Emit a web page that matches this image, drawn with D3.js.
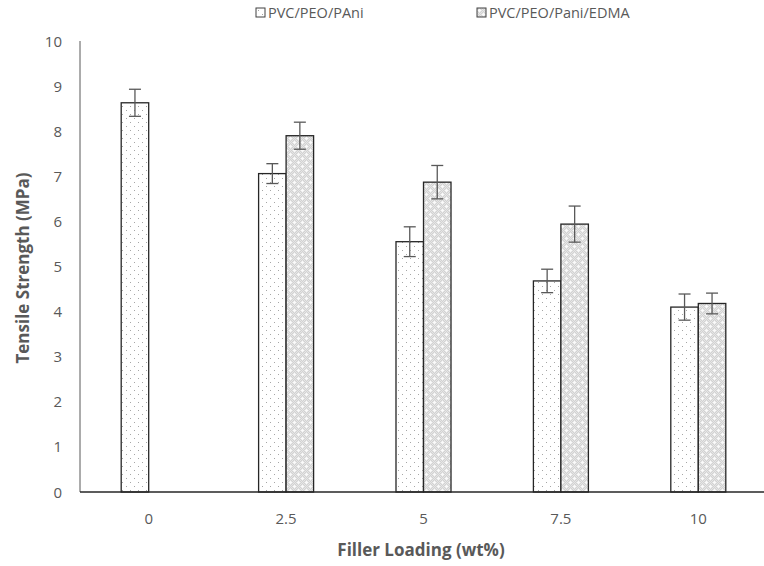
<!DOCTYPE html>
<html>
<head>
<meta charset="utf-8">
<script src="https://cdn.jsdelivr.net/npm/d3@7"></script>
<style>
  body { margin: 0; background: #fff; }
  text { font-family: "Open Sans", sans-serif; }
</style>
</head>
<body>
<div class="chart"></div>
<script>
var categories = ["0", "2.5", "5", "7.5", "10"];
var seriesNames = ["PVC/PEO/PAni", "PVC/PEO/Pani/EDMA"];
var pani = [8.63, 7.06, 5.55, 4.68, 4.1];
var paniErr = [0.3, 0.22, 0.33, 0.26, 0.29];
var edma = [null, 7.9, 6.87, 5.94, 4.18];
var edmaErr = [null, 0.3, 0.37, 0.4, 0.23];
var yTicks = [0, 1, 2, 3, 4, 5, 6, 7, 8, 9, 10];

var W = 764, H = 566;
var margin = { top: 41, left: 80, bottom: 74 };
var plotRight = 767;

var svg = d3.select(".chart").append("svg")
    .attr("width", W).attr("height", H);

var defs = svg.append("defs");
// sparse dots pattern for first series
var p1 = defs.append("pattern").attr("id", "dots")
    .attr("patternUnits", "userSpaceOnUse").attr("width", 8).attr("height", 8);
p1.append("rect").attr("width", 8).attr("height", 8).attr("fill", "#fff");
p1.append("rect").attr("x", 2).attr("y", 2).attr("width", 1).attr("height", 1).attr("fill", "#a6a6a6");
p1.append("rect").attr("x", 6).attr("y", 6).attr("width", 1).attr("height", 1).attr("fill", "#a6a6a6");
// light gray checker with white crosses for second series
var p2 = defs.append("pattern").attr("id", "grid")
    .attr("patternUnits", "userSpaceOnUse").attr("width", 8).attr("height", 8);
p2.append("rect").attr("width", 8).attr("height", 8).attr("fill", "#d2d2d2");
[[0,0],[2,0],[4,0],[6,0],[1,1],[3,1],[5,1],[7,1],[0,2],[2,2],[4,2],[6,2],[1,3],[3,3],[5,3],[7,3],
 [0,4],[2,4],[4,4],[6,4],[1,5],[3,5],[5,5],[7,5],[0,6],[2,6],[4,6],[6,6],[1,7],[3,7],[5,7],[7,7]]
    .forEach(function (c) {
        p2.append("rect").attr("x", c[0]).attr("y", c[1]).attr("width", 1).attr("height", 1).attr("fill", "#e6e6e6");
    });
[[2,1],[1,2],[2,2],[3,2],[2,3],[6,5],[5,6],[6,6],[7,6],[6,7]].forEach(function (c) {
    p2.append("rect").attr("x", c[0]).attr("y", c[1]).attr("width", 1).attr("height", 1).attr("fill", "#fafafa");
});

var x = d3.scaleBand().domain(categories).range([margin.left, plotRight]).padding(0);
var y = d3.scaleLinear().domain([0, 10]).range([H - margin.bottom, margin.top]);
var barW = 27.5;

var rows = categories.map(function (c, i) {
    return [
        { cat: c, s: 0, v: pani[i], e: paniErr[i] },
        { cat: c, s: 1, v: edma[i], e: edmaErr[i] }
    ];
});
var bars = [].concat.apply([], rows).filter(d => d.v != null);

function barX(d) {
    return x(d.cat) + x.bandwidth() / 2 + (d.s === 0 ? -barW : 0);
}

// axes
svg.append("line")
    .attr("x1", margin.left).attr("x2", margin.left)
    .attr("y1", y(10)).attr("y2", y(0))
    .attr("stroke", "#595959").attr("stroke-width", 1);

svg.selectAll(".ytick").data(yTicks).enter().append("text")
    .attr("x", 62).attr("y", d => y(d) + 5.5)
    .attr("text-anchor", "end")
    .attr("font-size", 15).attr("fill", "#595959")
    .text(d => d);

svg.selectAll(".bar").data(bars).enter().append("rect")
    .attr("x", barX)
    .attr("y", d => y(d.v))
    .attr("width", barW)
    .attr("height", d => y(0) - y(d.v))
    .attr("fill", d => d.s === 0 ? "url(#dots)" : "url(#grid)")
    .attr("stroke", "#262626").attr("stroke-width", 1.3);

svg.append("line")
    .attr("x1", margin.left).attr("x2", W)
    .attr("y1", y(0)).attr("y2", y(0))
    .attr("stroke", "#262626").attr("stroke-width", 1.3);

// error bars
var eb = svg.selectAll(".err").data(bars).enter().append("g")
    .attr("stroke", "#595959").attr("stroke-width", 1.3);
eb.append("line")
    .attr("x1", d => barX(d) + barW / 2).attr("x2", d => barX(d) + barW / 2)
    .attr("y1", d => y(d.v + d.e)).attr("y2", d => y(d.v - d.e));
eb.append("line")
    .attr("x1", d => barX(d) + barW / 2 - 6).attr("x2", d => barX(d) + barW / 2 + 6)
    .attr("y1", d => y(d.v + d.e)).attr("y2", d => y(d.v + d.e));
eb.append("line")
    .attr("x1", d => barX(d) + barW / 2 - 6).attr("x2", d => barX(d) + barW / 2 + 6)
    .attr("y1", d => y(d.v - d.e)).attr("y2", d => y(d.v - d.e));

svg.selectAll(".xtick").data(categories).enter().append("text")
    .attr("x", d => x(d) + x.bandwidth() / 2)
    .attr("y", 524)
    .attr("text-anchor", "middle")
    .attr("font-size", 15).attr("fill", "#595959")
    .text(d => d);

// axis titles
svg.append("text")
    .attr("x", 421).attr("y", 556)
    .attr("text-anchor", "middle")
    .attr("font-size", 17).attr("font-weight", "bold").attr("fill", "#595959")
    .text("Filler Loading (wt%)");

svg.append("text")
    .attr("transform", "translate(29," + 268 + ") rotate(-90)")
    .attr("text-anchor", "middle")
    .attr("font-size", 17).attr("font-weight", "bold").attr("fill", "#595959")
    .text("Tensile Strength (MPa)");

// legend
var legX = [256, 477];
var leg = svg.selectAll(".leg").data(seriesNames).enter().append("g")
    .attr("transform", (d, i) => "translate(" + legX[i] + ",8)");
leg.append("rect")
    .attr("width", 9).attr("height", 9)
    .attr("fill", (d, i) => i === 0 ? "url(#dots)" : "url(#grid)")
    .attr("stroke", "#404040").attr("stroke-width", 1);
leg.append("text")
    .attr("x", 12).attr("y", 10)
    .attr("font-size", 14.5).attr("fill", "#595959")
    .text(d => d);
</script>
</body>
</html>
